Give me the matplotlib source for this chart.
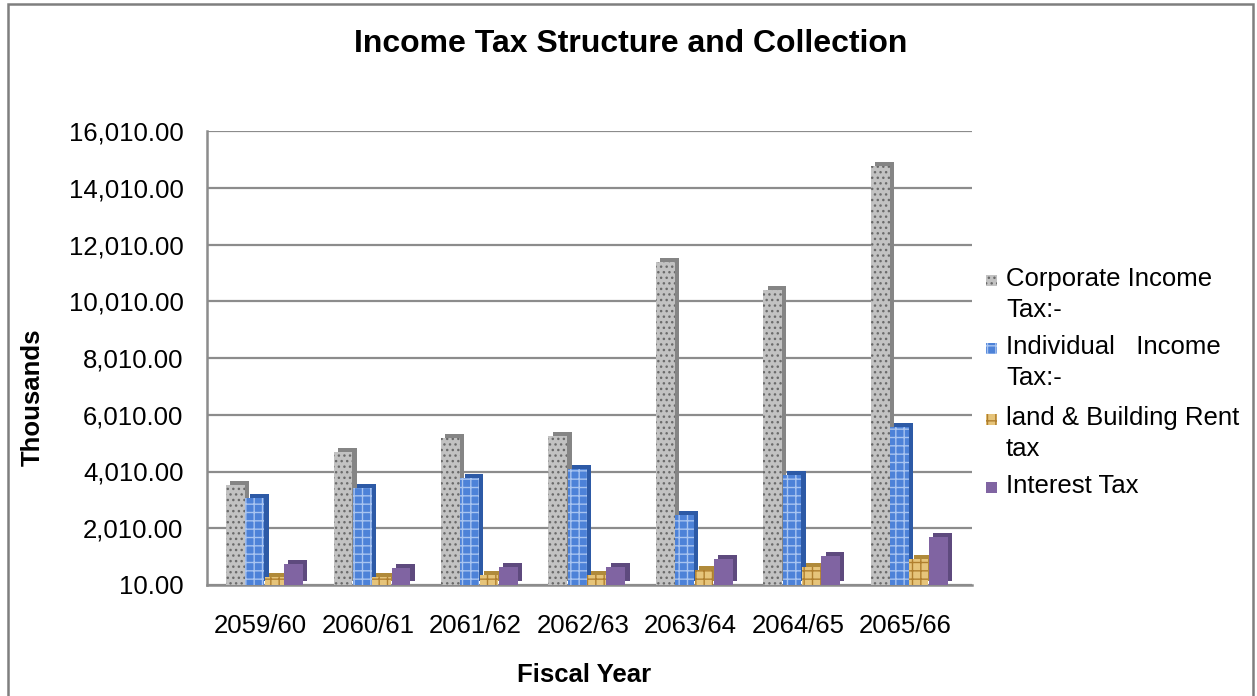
import numpy as np
import matplotlib
matplotlib.use("Agg")
import matplotlib.pyplot as plt
from matplotlib.patches import Rectangle
from matplotlib.ticker import FuncFormatter

plt.rcParams['font.family'] = ['Liberation Sans', 'DejaVu Sans']
plt.rcParams['hatch.linewidth'] = 1.0

anos = ["2059/60", "2060/61", "2061/62", "2062/63", "2063/64", "2064/65", "2065/66"]
corporativo = [3540, 4700, 5180, 5260, 11410, 10410, 14770]
individual = [3070, 3440, 3770, 4090, 2470, 3880, 5590]
aluguel = [300, 300, 380, 380, 530, 650, 940]
juros = [740, 610, 650, 650, 940, 1020, 1710]

series = [corporativo, individual, aluguel, juros]
nomes = [["Corporate Income", "Tax:-"],
         ["Individual   Income", "Tax:-"],
         ["land & Building Rent", "tax"],
         ["Interest Tax"]]
cores = ["#c2c2c2", "#4d82d8", "#e6c47a", "#8064a2"]
cores_lado = ["#858585", "#2d5aa6", "#b08a3a", "#5e4a7e"]
hachuras = ["...", "++", "++", None]
cor_hachura = ["#6a6a6a", "#a8c4f0", "#b07f2e", "#8064a2"]

fig = plt.figure(figsize=(12.57, 6.96), dpi=100)
ax = fig.add_axes([207 / 1257, 111 / 696, 765 / 1257, 454 / 696])

x = np.arange(len(anos))
largura = 0.175
desloc = (np.arange(4) - 1.5) * 0.18 + 0.035
dx = 0.04
dy = 140

for i, vals in enumerate(series):
    vals = np.array(vals)
    # face lateral / topo (efeito 3D)
    ax.bar(x + desloc[i] + dx, vals, largura, bottom=dy, color=cores_lado[i],
           linewidth=0, zorder=3 + 2 * i)
    ax.bar(x + desloc[i], vals, largura, color=cores[i], edgecolor=cor_hachura[i],
           hatch=hachuras[i], linewidth=0, zorder=4 + 2 * i)

ax.set_xlim(-0.5, 6.62)
ax.set_ylim(10, 16010)
ax.set_yticks([10 + 2000 * k for k in range(9)])
ax.yaxis.set_major_formatter(FuncFormatter(lambda v, p: f"{v:,.2f}"))
ax.set_xticks(x)
ax.set_xticklabels(anos)
ax.tick_params(axis='both', length=0, labelsize=18.5, colors='black')
ax.tick_params(axis='y', pad=17)
ax.tick_params(axis='x', pad=21)
ax.grid(axis='y', color='#8c8c8c', linewidth=1.6, zorder=0)
ax.set_axisbelow(True)
for lado in ['top', 'right']:
    ax.spines[lado].set_visible(False)
for lado in ['left', 'bottom']:
    ax.spines[lado].set_color('#8c8c8c')
    ax.spines[lado].set_linewidth(1.8)

fig.text(631 / 1257, 1 - 44 / 696, "Income Tax Structure and Collection",
         ha='center', va='center', fontsize=23, fontweight='bold')
fig.text(33 / 1257, 1 - 397 / 696, "Thousands", rotation=90, ha='center', va='center',
         fontsize=18.5, fontweight='bold')
fig.text(584 / 1257, 1 - 675 / 696, "Fiscal Year", ha='center', va='center',
         fontsize=18.5, fontweight='bold')

# legenda feita à mão
topo = [279, 347, 418, 486]
for i, linhas in enumerate(nomes):
    fig.patches.append(Rectangle((986 / 1257, 1 - (topo[i] + 7) / 696), 11 / 1257, 11 / 696,
                                 transform=fig.transFigure, facecolor=cores[i],
                                 edgecolor=cor_hachura[i], hatch=hachuras[i], linewidth=0))
    for j, linha in enumerate(linhas):
        fig.text(1006 / 1257, 1 - (topo[i] + 31 * j) / 696, linha, ha='left', va='center',
                 fontsize=18.5)

# moldura
fig.patches.append(Rectangle((8 / 1257, -0.02), 1245 / 1257, 1.02 - 4 / 696,
                             transform=fig.transFigure, fill=False,
                             edgecolor='#7f7f7f', linewidth=1.8))

fig.savefig("out.png", dpi=100)
